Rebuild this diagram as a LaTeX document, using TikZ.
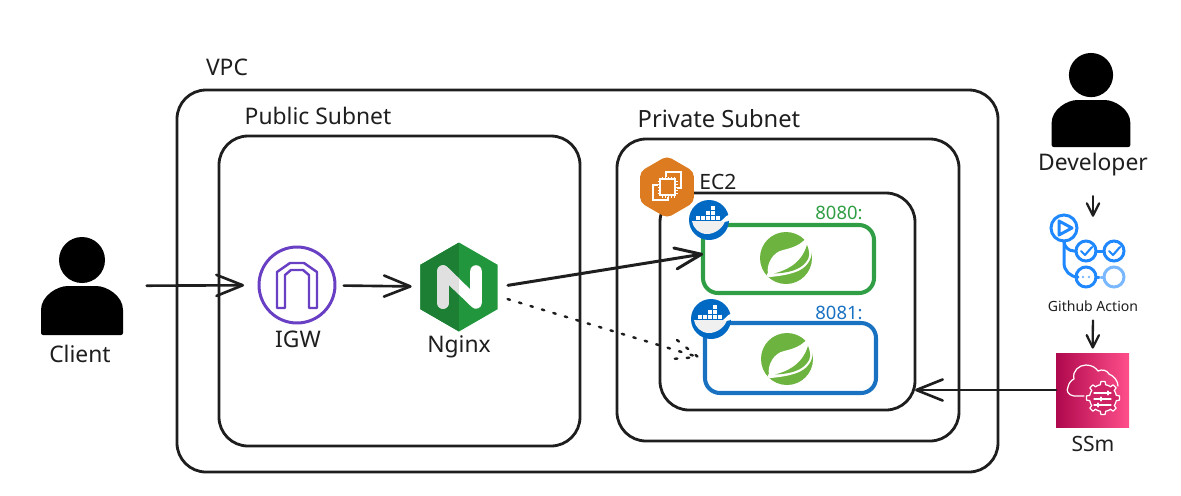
\documentclass[tikz,border=0pt]{standalone}
\usepackage{fontspec}
\setmainfont{Noto Sans}
\usetikzlibrary{arrows.meta,shapes.geometric}

\definecolor{inkblack}{HTML}{1E1E1E}
\definecolor{springgreen}{HTML}{6DB33F}
\definecolor{portgreen}{HTML}{2F9E44}
\definecolor{portblue}{HTML}{1971C2}
\definecolor{igwpurple}{HTML}{693FC4}
\definecolor{ngxdark}{HTML}{1C7F33}
\definecolor{ngxlight}{HTML}{22963D}
\definecolor{ecorange}{HTML}{DD7B20}
\definecolor{dockerblue}{HTML}{0069C4}
\definecolor{ghblue}{HTML}{2088FF}
\definecolor{ghlight}{HTML}{79B8FF}
\definecolor{ssmdark}{HTML}{B0084D}
\definecolor{ssmlight}{HTML}{FF4F8B}

\tikzset{
	panel/.style 2 args={draw=inkblack, line width=1.6pt, minimum width=#1*0.02cm, minimum height=#2*0.02cm, rounded corners=0.58cm, outer sep=0pt},
	portbox/.style 2 args={line width=2.3pt, minimum width=#1*0.02cm, minimum height=#2*0.02cm, rounded corners=0.3cm, outer sep=0pt},
	iconbox/.style 2 args={minimum width=#1*0.02cm, minimum height=#2*0.02cm, inner sep=0pt, outer sep=0pt},
	txt/.style={inner sep=0pt, text=inkblack, font=\fontsize{13}{15}\selectfont},
	flow/.style={-{Straight Barb[length=15pt,width=12pt,round]}, draw=inkblack, line width=1.5pt, line cap=round},
	shortflow/.style={-{Straight Barb[length=7pt,width=7pt,round]}, draw=inkblack, line width=1.3pt, line cap=round},
	dotflow/.style={draw=inkblack, line width=1.4pt, line cap=round, dash pattern=on 1.4pt off 5.4pt},
	ghdot/.style={circle, draw=ghblue, line width=1.7pt, minimum size=0.4cm, inner sep=0pt, outer sep=0pt},
	dockerdot/.style={circle, fill=dockerblue, minimum size=0.8cm, inner sep=0pt, outer sep=0pt},
	pics/personshape/.style={code={
		\fill[black] (0,-26) circle (23);
		\fill[black, rounded corners=1.2pt] (-41,49) -- (-41,26) .. controls (-41,10) and (-25,0) .. (-12,0) -- (12,0) .. controls (25,0) and (41,10) .. (41,26) -- (41,49) -- cycle;
	}},
	pics/whaleshape/.style={code={
		\fill[white!94!black] (-17,1) -- (16,1) .. controls (14,8) and (6,14) .. (-2,14) .. controls (-10,14) and (-16,8) .. (-17,1) -- cycle;
		\fill[white] (12,1) .. controls (15,-1) and (17,-5) .. (20,-5) .. controls (20,-3) and (23,-2) .. (22,-1) .. controls (20,1) and (18,2) .. (15,2) -- cycle;
		\foreach \bx/\by in {-13/-4,-8/-4,-3/-4,2/-4,7/-4,-3/-9,2/-9,2/-14}
			\fill[white] (\bx,\by) rectangle ++(4.2,4.2);
	}},
	pics/springshape/.style={code={
		\fill[springgreen] (0,0) circle (26);
		\fill[white] (-18,16) .. controls (-20,6) and (-13,-6) .. (-3,-8) .. controls (6,-10) and (15,-13) .. (21,-21) .. controls (26,-13) and (28,-3) .. (22,5) .. controls (16,14) and (3,17) .. (-16,19) -- cycle;
		\fill[springgreen] (-12,15.5) .. controls (-2,13) and (15,7) .. (21,-13) .. controls (24,-6) and (24,0) .. (20,4) .. controls (14,12) and (2,15) .. (-12,15.5) -- cycle;
		\fill[white] (-17,17) circle (2.2);
	}},
}

\begin{document}
\begin{tikzpicture}[x=0.02cm, y=-0.02cm]
	\useasboundingbox (0,0) rectangle (1181,495);

	% boxes
	\node[panel={821}{382}] (vpc) at (587.5,281) {};
	\node[panel={361}{310}] (public) at (399.5,291) {};
	\node[panel={342}{302}] (private) at (788,290) {};
	\node[panel={255}{217}] (ec2box) at (787.5,301.5) {};
	\node[portbox={171}{68}, draw=portgreen] (greenbox) at (788.5,259) {};
	\node[portbox={171}{70}, draw=portblue] (bluebox) at (790.5,358) {};

	% labels
	\node[txt] (vpclabel) at (227,67) {VPC};
	\node[txt] (publiclabel) at (318,116) {Public Subnet};
	\node[txt, font=\fontsize{13.5}{15}\selectfont] (privatelabel) at (719,119) {Private Subnet};
	\node[txt, font=\fontsize{12}{14}\selectfont] (ec2label) at (718,182) {EC2};
	\node[txt, text=portgreen, font=\fontsize{10.5}{12}\selectfont] (greenport) at (839,213) {8080:};
	\node[txt, text=portblue, font=\fontsize{10.5}{12}\selectfont] (blueport) at (839,313) {8081:};
	\node[txt] (clientlabel) at (80,354) {Client};
	\node[txt] (igwlabel) at (298,339) {IGW};
	\node[txt] (nginxlabel) at (459,347) {Nginx};
	\node[txt] (devlabel) at (1093,165) {Developer};
	\node[txt, font=\fontsize{8}{10}\selectfont] (ghlabel) at (1093,306) {Github Action};
	\node[txt, font=\fontsize{12}{14}\selectfont] (ssmlabel) at (1093,444) {SSm};

	% people
	\node[iconbox={82}{98}] (client) at (82,286) {};
	\pic at (client) {personshape};
	\node[iconbox={82}{94}] (dev) at (1091,100) {};
	\path (1091,100) pic[scale=0.96] {personshape};

	% igw
	\node[circle, draw=igwpurple, line width=1.7pt, minimum size=1.52cm, inner sep=0pt, outer sep=0pt] (igw) at (297,285) {};
	\draw[igwpurple, line width=1.4pt, line join=round] (277,308) -- (277,272) -- (290,263) -- (304,263) -- (317,272) -- (317,308) -- (309,308) -- (309,275) -- (303,270) -- (291,270) -- (285,275) -- (285,308) -- cycle;

	% nginx
	\node[regular polygon, regular polygon sides=6, shape border rotate=30, fill=ngxlight, minimum size=1.78cm, inner sep=0pt, outer sep=0pt,
		path picture={\fill[ngxdark] (path picture bounding box.north west) rectangle (path picture bounding box.south);}] (nginx) at (459,287) {};
	\draw[white, line width=6.6pt, line cap=round, line join=round] (443,271) -- (443,303) (443,271) -- (476,303) -- (476,271);
	\begin{scope}
		\clip (420,240) rectangle (459,335);
		\draw[white!88!black, line width=6.6pt, line cap=round, line join=round] (443,303) -- (443,271) -- (476,303);
	\end{scope}

	% ec2
	\node[regular polygon, regular polygon sides=6, shape border rotate=30, fill=ecorange, rounded corners=0.1cm, minimum size=1.24cm, inner sep=0pt, outer sep=0pt] (ec2) at (667,187) {};
	\begin{scope}[white, line width=0.6pt]
		\draw (666,172) rectangle (681,188);
		\draw (653,185) rectangle (668,200);
		\draw[fill=ecorange, draw=ecorange, line width=2pt] (660,179) rectangle (675,195);
		\draw[fill=ecorange] (660,179) rectangle (675,195);
		\foreach \t in {662,665,668,671,674} {
			\draw[line width=0.4pt] (\t,176.5) -- (\t,179);
			\draw[line width=0.4pt] (\t,195) -- (\t,197.5);
		}
		\foreach \t in {181,184,187,190,193} {
			\draw[line width=0.4pt] (657.5,\t) -- (660,\t);
			\draw[line width=0.4pt] (675,\t) -- (677.5,\t);
		}
	\end{scope}

	% containers
	\node[dockerdot] (dockera) at (709,220) {};
	\pic at (dockera) {whaleshape};
	\node[dockerdot] (dockerb) at (711,319) {};
	\pic at (dockerb) {whaleshape};
	\node[iconbox={52}{52}] (springa) at (786,258) {};
	\pic at (springa) {springshape};
	\node[iconbox={52}{52}] (springb) at (787,359) {};
	\pic at (springb) {springshape};

	% github action
	\node[ghdot, minimum size=0.52cm] (play) at (1064,228) {};
	\node[ghdot] (checka) at (1086,251) {};
	\node[ghdot] (checkb) at (1114,251) {};
	\node[ghdot] (waita) at (1086,277) {};
	\node[ghdot, draw=ghlight] (waitb) at (1114,277) {};
	\begin{scope}[ghblue, line width=1.7pt, line cap=round, line join=round]
		\draw[rounded corners=0.2cm] (play.south) |- (checka.west);
		\draw[rounded corners=0.28cm] (play.south) |- (waita.west);
		\draw (checka) -- (checkb);
		\draw (waita.east) -- ++(3,0);
		\draw[ghlight] (waitb.west) -- ++(-3,0);
		\draw (1059,221) -- (1059,235) -- (1072,228) -- cycle;
		\draw[line width=1.2pt] (1081,251) -- (1085,255) -- (1092,247);
		\draw[line width=1.2pt] (1109,251) -- (1113,255) -- (1120,247);
		\fill[ghlight] (1083,277) circle (1.4) (1089,277) circle (1.4);
	\end{scope}

	% ssm
	\node[iconbox={73}{74}, shading=axis, shading angle=45, left color=ssmdark, right color=ssmlight] (ssm) at (1092.5,390) {};
	\begin{scope}[white, line width=0.7pt, line cap=round, line join=round]
		\draw (1084,396) -- (1074,396) .. controls (1068,395) and (1066,391) .. (1068,387) .. controls (1069,382) and (1072,380) .. (1074,379) .. controls (1072,371) and (1079,365) .. (1086,365) .. controls (1092,365) and (1096,368) .. (1098,371) .. controls (1102,369) and (1107,370) .. (1109,374) .. controls (1114,376) and (1118,381) .. (1118,386);
		\draw[shift={(1103,398)}, fill=ssmdark!62!ssmlight] plot[domain=0:360, samples=97] (\x:{13.5+3*(cos(8*\x)>0)}) -- cycle;
		\draw (1094,393) -- (1111,393);
		\draw (1094,399) -- (1111,399);
		\draw (1094,405) -- (1111,405);
		\draw[line width=1.4pt] (1108,391.5) -- (1108,394.5) (1101,397.5) -- (1101,400.5) (1098,403.5) -- (1098,406.5);
	\end{scope}

	% connectors
	\draw[flow, shorten <=13.5pt, shorten >=8.5pt] (client) -- (igw);
	\draw[flow, shorten <=5pt, shorten >=5pt] (igw) -- (nginx);
	\coordinate (greenin) at (703,254);
	\draw[flow, shorten <=6pt, line width=1.7pt] (nginx.east) -- (greenin);
	\draw[flow, shorten >=0pt] (ssm.west) -- (ssm.west -| ec2box.east);
	\draw[shortflow, shorten <=11pt, shorten >=-1pt] (devlabel) -- (ghlabel |- play.north);
	\draw[shortflow, shorten <=5pt, shorten >=2.5pt] (ghlabel) -- (ssm);

	% dotted connector with its loose head
	\coordinate (bluein) at (698,357);
	\coordinate (barbup) at (677,340);
	\coordinate (barbdown) at (672,359);
	\draw[dotflow, shorten <=6pt] (nginx.east) ++(0,9) -- (bluein);
	\draw[dotflow] (barbup) -- (bluein) -- (barbdown);
\end{tikzpicture}
\end{document}
